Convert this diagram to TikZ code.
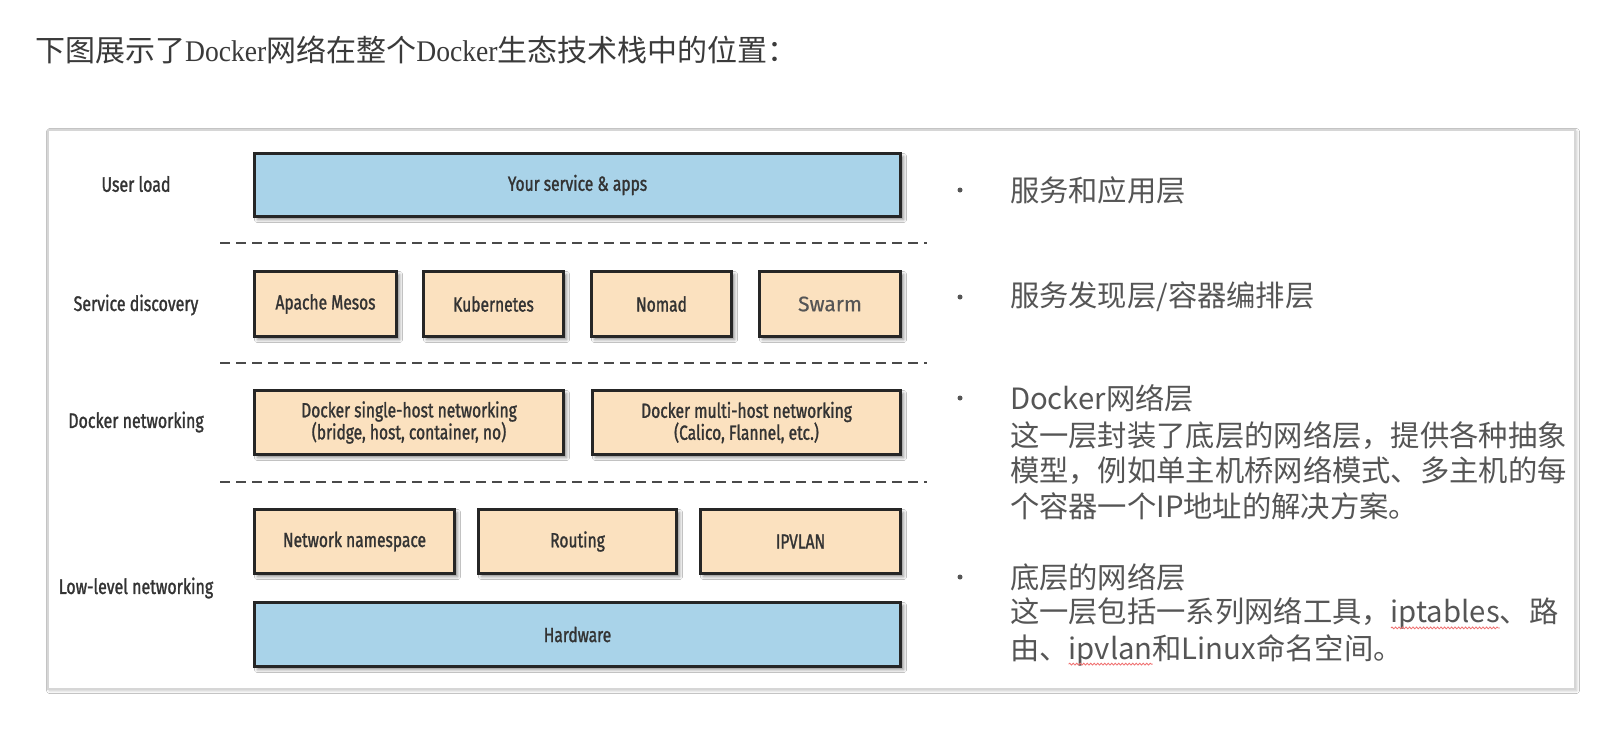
\documentclass[tikz,border=0pt]{standalone}
\usepackage{fontspec}
\usetikzlibrary{shadows.blur,decorations.pathmorphing}
\newfontfamily\cjk{Noto Sans CJK SC}
\newfontfamily\tserif[FakeStretch=0.92]{Liberation Serif}
\newfontfamily\cond[FakeStretch=0.76,FakeBold=1.3]{Fira Sans}
\newfontfamily\fira[FakeBold=0.6]{Fira Sans}
\definecolor{boxblue}{HTML}{A9D3E9}
\definecolor{boxpeach}{HTML}{FBE1BF}
\definecolor{boxline}{HTML}{262626}
\definecolor{labeltext}{HTML}{333333}
\definecolor{righttext}{HTML}{555555}
\definecolor{titletext}{HTML}{3A3A3A}
\definecolor{sepgray}{HTML}{4A4A4A}
\definecolor{framegray}{HTML}{D6D6D6}
\definecolor{squig}{HTML}{F07070}
\newcommand\lbox[7]{%
  \node[#1, minimum width={(#4-#2-2.8)*1pt}, minimum height={(#5-#3-2.8)*1pt}]
    (#6) at ({(#2+#4)/2},{(#3+#5)/2}) {#7};}
\begin{document}
\begin{tikzpicture}[x=1pt,y=-1pt,
  framebox/.style={draw=framegray, line width=1.5pt, fill=white, inner sep=0pt, outer sep=0pt,
    blur shadow={shadow xshift=1.5pt, shadow yshift=-1.5pt, shadow blur radius=3pt, shadow opacity=25}},
  layerbox/.style={draw=boxline, line width=2.8pt, inner sep=0pt, outer sep=0pt,
    blur shadow={shadow xshift=3pt, shadow yshift=-3pt, shadow blur radius=3pt, shadow opacity=45},
    font=\cond\fontsize{20.5}{24}\selectfont, text=labeltext, align=center},
  bluebox/.style={layerbox, fill=boxblue},
  peachbox/.style={layerbox, fill=boxpeach},
  sidelabel/.style={font=\cond\fontsize{21}{24}\selectfont, text=labeltext, inner sep=0pt},
  sepline/.style={draw=sepgray, line width=2.5pt, dash pattern=on 10pt off 6pt},
  rtext/.style={font=\cjk\fontsize{29.3}{35}\selectfont, text=righttext, inner sep=0pt, outer sep=0pt},
  bullet/.style={circle, fill=righttext, inner sep=0pt, minimum size=5pt},
  squiggle/.style={draw=squig, line width=0.8pt, decorate, decoration={snake, amplitude=0.9pt, segment length=3.5pt}},
  title/.style={font=\fontsize{30}{35}\selectfont, text=titletext, inner sep=0pt}
]
\useasboundingbox (0,0) rectangle (1608,732);
\fill[white] (0,0) rectangle (1608,732);

% title
\node[title, anchor=west] (title) at (35,50)
  {{\cjk 下图展示了}{\tserif Docker}{\cjk 网络在整个}{\tserif Docker}{\cjk 生态技术栈中的位置：}};

% frame
\node[framebox, minimum width=1527pt, minimum height=559pt] (frame) at (811.5,409.5) {};

% side labels
\node[sidelabel] (lbuser) at (136,184) {User load};
\node[sidelabel] (lbsd) at (136,305) {Service discovery};
\node[sidelabel] (lbdn) at (136,422) {Docker networking};
\node[sidelabel] (lbll) at (136,588) {Low-level networking};

% boxes
\lbox{bluebox}{253}{152}{902}{218}{apps}{Your service \& apps}
\lbox{peachbox}{253}{270}{398}{338}{mesos}{Apache Mesos}
\lbox{peachbox}{422}{270}{565}{338}{kube}{Kubernetes}
\lbox{peachbox}{590}{270}{733}{338}{nomad}{Nomad}
\lbox{peachbox}{758}{270}{902}{338}{swarm}{\fira\fontsize{21}{25}\selectfont\color{righttext}Swarm}
\lbox{peachbox}{253}{389}{565}{456}{single}{Docker single-host networking\\[-2pt](bridge, host, container, no)}
\lbox{peachbox}{591}{389}{902}{456}{multi}{Docker multi-host networking\\[-2pt](Calico, Flannel, etc.)}
\lbox{peachbox}{253}{508}{456}{575}{netns}{Network namespace}
\lbox{peachbox}{477}{508}{678}{575}{routing}{Routing}
\lbox{peachbox}{699}{508}{902}{575}{ipvlan}{IPVLAN}
\lbox{bluebox}{253}{601}{902}{668}{hw}{Hardware}

% separators
\coordinate (s1a) at (220,243); \coordinate (s1b) at (927,243);
\coordinate (s2a) at (220,363); \coordinate (s2b) at (927,363);
\coordinate (s3a) at (220,482); \coordinate (s3b) at (927,482);
\draw[sepline] (s1a) -- (s1b);
\draw[sepline] (s2a) -- (s2b);
\draw[sepline] (s3a) -- (s3b);

% right column
\node[bullet] (b1) at (960,190) {};
\node[bullet] (b2) at (960,297) {};
\node[bullet] (b3) at (960,398) {};
\node[bullet] (b4) at (960,577) {};

\node[rtext, anchor=west] (r1) at (1010,190) {服务和应用层};
\node[rtext, anchor=west] (r2) at (1010,297) {服务发现层/容器编排层};
\node[rtext, anchor=west] (r3) at (1010,398) {Docker网络层};
\node[rtext, anchor=west] (r4) at (1010,436) {这一层封装了底层的网络层，提供各种抽象};
\node[rtext, anchor=west] (r5) at (1010,471) {模型，例如单主机桥网络模式、多主机的每};
\node[rtext, anchor=west] (r6) at (1010,506) {个容器一个IP地址的解决方案。};
\node[rtext, anchor=west] (r7) at (1010,577) {底层的网络层};
\node[rtext, anchor=west] (r8a) at (1010,612) {这一层包括一系列网络工具，};
\node[rtext, anchor=base west] (r8b) at (r8a.base east) {iptables};
\node[rtext, anchor=base west] (r8c) at (r8b.base east) {、路};
\node[rtext, anchor=west] (r9a) at (1010,648) {由、};
\node[rtext, anchor=base west] (r9b) at (r9a.base east) {ipvlan};
\node[rtext, anchor=base west] (r9c) at (r9b.base east) {和Linux命名空间。};
\draw[squiggle] ([yshift=-5pt]r8b.base west) -- ([yshift=-5pt]r8b.base east);
\draw[squiggle] ([yshift=-5pt]r9b.base west) -- ([yshift=-5pt]r9b.base east);
\end{tikzpicture}
\end{document}
